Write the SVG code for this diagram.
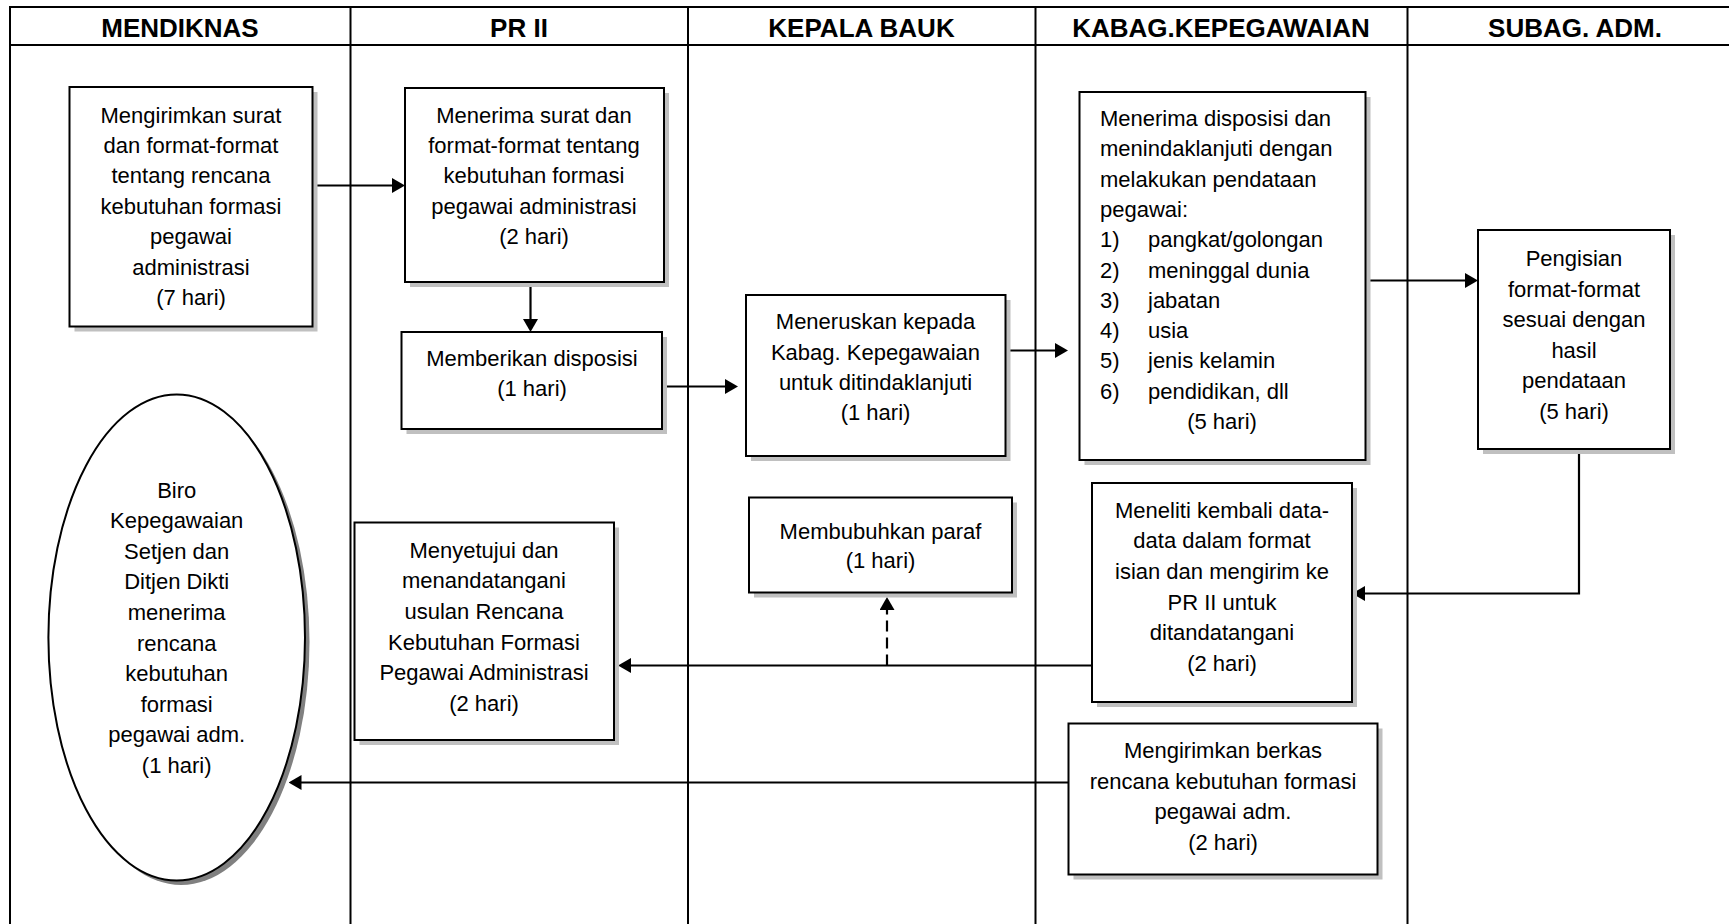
<svg xmlns="http://www.w3.org/2000/svg" width="1729" height="924" viewBox="0 0 1729 924">
  <style>
    .lane { stroke: #000; stroke-width: 2; fill: none; }
    .hdr { font-family: "Liberation Sans", Arial, sans-serif; font-weight: bold; font-size: 26px; fill: #000; text-anchor: middle; }
    .box { fill: #fff; stroke: #000; stroke-width: 2; }
    .shadow { fill: #c0c0c0; stroke: none; }
    .oshadow { fill: #808080; stroke: none; }
    .t { font-family: "Liberation Sans", Arial, sans-serif; font-size: 22px; fill: #000; text-anchor: middle; }
    .tl { font-family: "Liberation Sans", Arial, sans-serif; font-size: 22px; fill: #000; }
    .conn { stroke: #000; stroke-width: 2.2; fill: none; }
    .arrow { marker-end: url(#head); }
    .dash { stroke-dasharray: 11 6; }
  </style>
  <defs>
    <marker id="head" markerUnits="userSpaceOnUse" markerWidth="13" markerHeight="16" refX="9" refY="7.5" orient="auto">
      <path d="M0,0 L13,7.5 L0,15 z" fill="#000"/>
    </marker>
  </defs>

  <rect width="1729" height="924" fill="#fff"/>

  <!-- swimlane frame -->
  <g id="lanes">
    <line class="lane" x1="9" y1="7" x2="1729" y2="7"/>
    <line class="lane" x1="10" y1="6" x2="10" y2="924"/>
    <line class="lane" x1="9" y1="45" x2="1729" y2="45"/>
    <line class="lane" x1="350.5" y1="7" x2="350.5" y2="924"/>
    <line class="lane" x1="688" y1="7" x2="688" y2="924"/>
    <line class="lane" x1="1035.5" y1="7" x2="1035.5" y2="924"/>
    <line class="lane" x1="1407.5" y1="7" x2="1407.5" y2="924"/>
    <text class="hdr" x="180" y="37">MENDIKNAS</text>
    <text class="hdr" x="519" y="37">PR II</text>
    <text class="hdr" x="861.5" y="37">KEPALA BAUK</text>
    <text class="hdr" x="1221" y="37">KABAG.KEPEGAWAIAN</text>
    <text class="hdr" x="1575" y="37">SUBAG. ADM.</text>
  </g>

  <!-- connectors -->
  <g id="connectors">
    <path class="conn arrow" d="M312.5,185.5 H401"/>
    <path class="conn arrow" d="M530.5,282 V328"/>
    <path class="conn arrow" d="M662,386.5 H734"/>
    <path class="conn arrow" d="M1005.5,350.5 H1064"/>
    <path class="conn arrow" d="M1366,280.5 H1474"/>
    <path class="conn arrow" d="M1579,449 V593.5 H1356"/>
    <path class="conn arrow" d="M1092,665.5 H622"/>
    <path class="conn dash arrow" d="M887,665.5 V601"/>
    <path class="conn arrow" d="M1068.5,782.5 H292.5"/>
  </g>

  <g id="n1">
    <rect class="shadow" x="74.5" y="92" width="243" height="239.5"/>
    <rect class="box" x="69.5" y="87" width="243" height="239.5"/>
    <text class="t" x="191" y="122.5">Mengirimkan surat</text>
    <text class="t" x="191" y="152.9">dan format-format</text>
    <text class="t" x="191" y="183.3">tentang rencana</text>
    <text class="t" x="191" y="213.7">kebutuhan formasi</text>
    <text class="t" x="191" y="244.1">pegawai</text>
    <text class="t" x="191" y="274.5">administrasi</text>
    <text class="t" x="191" y="304.9">(7 hari)</text>
  </g>

  <g id="n2">
    <rect class="shadow" x="410" y="93" width="259" height="194"/>
    <rect class="box" x="405" y="88" width="259" height="194"/>
    <text class="t" x="534" y="122.5">Menerima surat dan</text>
    <text class="t" x="534" y="152.9">format-format tentang</text>
    <text class="t" x="534" y="183.3">kebutuhan formasi</text>
    <text class="t" x="534" y="213.7">pegawai administrasi</text>
    <text class="t" x="534" y="244.1">(2 hari)</text>
  </g>

  <g id="n3">
    <rect class="shadow" x="406.5" y="337" width="260.5" height="97"/>
    <rect class="box" x="401.5" y="332" width="260.5" height="97"/>
    <text class="t" x="532" y="366">Memberikan disposisi</text>
    <text class="t" x="532" y="396">(1 hari)</text>
  </g>

  <g id="n4">
    <rect class="shadow" x="751" y="300" width="259.5" height="161"/>
    <rect class="box" x="746" y="295" width="259.5" height="161"/>
    <text class="t" x="875.5" y="329">Meneruskan kepada</text>
    <text class="t" x="875.5" y="359.5">Kabag. Kepegawaian</text>
    <text class="t" x="875.5" y="390">untuk ditindaklanjuti</text>
    <text class="t" x="875.5" y="420">(1 hari)</text>
  </g>

  <g id="n5">
    <rect class="shadow" x="1084.5" y="97" width="286" height="368"/>
    <rect class="box" x="1079.5" y="92" width="286" height="368"/>
    <text class="tl" x="1100" y="126">Menerima disposisi dan</text>
    <text class="tl" x="1100" y="156.3">menindaklanjuti dengan</text>
    <text class="tl" x="1100" y="186.6">melakukan pendataan</text>
    <text class="tl" x="1100" y="216.9">pegawai:</text>
    <text class="tl" x="1100" y="247.2">1)</text>
    <text class="tl" x="1148" y="247.2">pangkat/golongan</text>
    <text class="tl" x="1100" y="277.5">2)</text>
    <text class="tl" x="1148" y="277.5">meninggal dunia</text>
    <text class="tl" x="1100" y="307.8">3)</text>
    <text class="tl" x="1148" y="307.8">jabatan</text>
    <text class="tl" x="1100" y="338.1">4)</text>
    <text class="tl" x="1148" y="338.1">usia</text>
    <text class="tl" x="1100" y="368.4">5)</text>
    <text class="tl" x="1148" y="368.4">jenis kelamin</text>
    <text class="tl" x="1100" y="398.7">6)</text>
    <text class="tl" x="1148" y="398.7">pendidikan, dll</text>
    <text class="t" x="1222" y="429">(5 hari)</text>
  </g>

  <g id="n6">
    <rect class="shadow" x="1483" y="235" width="192" height="219"/>
    <rect class="box" x="1478" y="230" width="192" height="219"/>
    <text class="t" x="1574" y="266">Pengisian</text>
    <text class="t" x="1574" y="296.6">format-format</text>
    <text class="t" x="1574" y="327.2">sesuai dengan</text>
    <text class="t" x="1574" y="357.8">hasil</text>
    <text class="t" x="1574" y="388.4">pendataan</text>
    <text class="t" x="1574" y="419">(5 hari)</text>
  </g>

  <g id="n7">
    <rect class="shadow" x="1097" y="488" width="260" height="219"/>
    <rect class="box" x="1092" y="483" width="260" height="219"/>
    <text class="t" x="1222" y="517.5">Meneliti kembali data-</text>
    <text class="t" x="1222" y="548.2">data dalam format</text>
    <text class="t" x="1222" y="578.9">isian dan mengirim ke</text>
    <text class="t" x="1222" y="609.6">PR II untuk</text>
    <text class="t" x="1222" y="640.3">ditandatangani</text>
    <text class="t" x="1222" y="671">(2 hari)</text>
  </g>

  <g id="n8">
    <rect class="shadow" x="359.5" y="527.5" width="259.5" height="217.5"/>
    <rect class="box" x="354.5" y="522.5" width="259.5" height="217.5"/>
    <text class="t" x="484" y="557.5">Menyetujui dan</text>
    <text class="t" x="484" y="588.2">menandatangani</text>
    <text class="t" x="484" y="618.9">usulan Rencana</text>
    <text class="t" x="484" y="649.6">Kebutuhan Formasi</text>
    <text class="t" x="484" y="680.3">Pegawai Administrasi</text>
    <text class="t" x="484" y="711">(2 hari)</text>
  </g>

  <g id="n9">
    <rect class="shadow" x="754" y="502.5" width="263" height="95"/>
    <rect class="box" x="749" y="497.5" width="263" height="95"/>
    <text class="t" x="880.5" y="539">Membubuhkan paraf</text>
    <text class="t" x="880.5" y="567.5">(1 hari)</text>
  </g>

  <g id="n10">
    <rect class="shadow" x="1073.5" y="728.5" width="309" height="151"/>
    <rect class="box" x="1068.5" y="723.5" width="309" height="151"/>
    <text class="t" x="1223" y="758">Mengirimkan berkas</text>
    <text class="t" x="1223" y="788.5">rencana kebutuhan formasi</text>
    <text class="t" x="1223" y="819">pegawai adm.</text>
    <text class="t" x="1223" y="850">(2 hari)</text>
  </g>

  <g id="n11">
    <ellipse class="oshadow" cx="181.2" cy="642" rx="128.3" ry="243"/>
    <ellipse class="box" cx="176.7" cy="637.5" rx="128.3" ry="243"/>
    <text class="t" x="176.7" y="497.5">Biro</text>
    <text class="t" x="176.7" y="528.1">Kepegawaian</text>
    <text class="t" x="176.7" y="558.7">Setjen dan</text>
    <text class="t" x="176.7" y="589.3">Ditjen Dikti</text>
    <text class="t" x="176.7" y="619.9">menerima</text>
    <text class="t" x="176.7" y="650.5">rencana</text>
    <text class="t" x="176.7" y="681.1">kebutuhan</text>
    <text class="t" x="176.7" y="711.7">formasi</text>
    <text class="t" x="176.7" y="742.3">pegawai adm.</text>
    <text class="t" x="176.7" y="772.9">(1 hari)</text>
  </g>
</svg>
